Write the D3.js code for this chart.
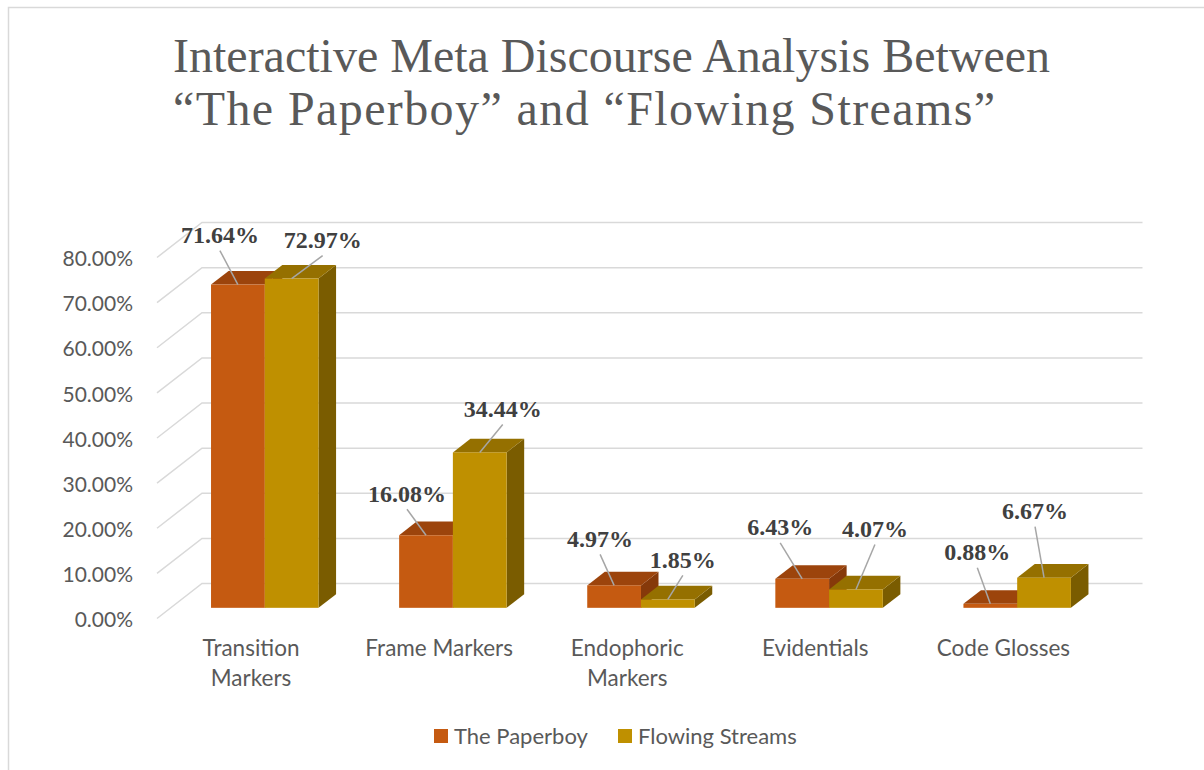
<!DOCTYPE html>
<html><head><meta charset="utf-8">
<script src="https://cdn.jsdelivr.net/npm/d3@7"></script>
<style>body{margin:0;background:#fff} svg{display:block}</style>
</head><body><svg id="c" width="1204" height="770"></svg>
<script>
// ---------- data ----------
const categories = ["Transition Markers", "Frame Markers", "Endophoric Markers", "Evidentials", "Code Glosses"];
const categoryLines = [["Transition", "Markers"], ["Frame Markers"], ["Endophoric", "Markers"], ["Evidentials"], ["Code Glosses"]];
const seriesNames = ["The Paperboy", "Flowing Streams"];
const paperboy = [71.64, 16.08, 4.97, 6.43, 0.88];
const flowing = [72.97, 34.44, 1.85, 4.07, 6.67];
const yTicks = [0, 10, 20, 30, 40, 50, 60, 70, 80];
const titleLines = ["Interactive Meta Discourse Analysis Between", "\u201CThe Paperboy\u201D and \u201CFlowing Streams\u201D"];

// ---------- layout / style ----------
const colors = {
  "The Paperboy": {front: "#C55A11", top: "#9C440C", side: "#86390A"},
  "Flowing Streams": {front: "#BF9000", top: "#957000", side: "#7A5C00"}
};
// data label offsets from leader start (per category, per series)
const labelOffsets = [
  [[-18, -50], [31, -39]],
  [[-19, -42], [23, -44]],
  [[-14, -47], [15, -40]],
  [[-22, -52], [19, -61]],
  [[-13, -52], [-9, -67]]
];
const depthX = 45, depthY = -35;      // full depth of the 3D box
const barF0 = 0.305, barF1 = 0.695;  // bar depth position (fraction)

const svg = d3.select("#c");
const sans = "Lato, 'Open Sans', sans-serif";
const serif = "'Liberation Serif', 'Times New Roman', serif";

svg.append("rect").attr("x", 8.5).attr("y", 7.5).attr("width", 1220).attr("height", 800)
  .attr("fill", "#fff").attr("stroke", "#D9D9D9").attr("stroke-width", 1.5);

// title
svg.append("g").selectAll("text").data(titleLines).join("text")
  .attr("x", 173).attr("y", (d, i) => 72 + i * 53)
  .attr("font-family", serif).attr("font-size", 48).attr("fill", "#595959")
  .attr("letter-spacing", (d, i) => i === 1 ? 1.4 : 0)
  .text(d => d);

const x = d3.scaleBand().domain(categories).range([157, 1097.5]).padding(0);
const xs = d3.scaleBand().domain(seriesNames).range([0, x.bandwidth()]).paddingInner(0).paddingOuter(0.75);
const y = d3.scaleLinear().domain([0, 80]).range([618.5, 257.5]);

// gridlines (side wall + back wall)
const grid = svg.append("g").attr("stroke", "#D9D9D9").attr("stroke-width", 1.5).attr("fill", "none");
yTicks.forEach(t => {
  const yf = y(t), yb = y(t) + depthY;
  grid.append("path").attr("d", `M${x.range()[0]},${yf}L${x.range()[0] + depthX},${yb}L${x.range()[1] + depthX},${yb}`);
});

// y axis labels
const yAxis = d3.axisLeft(y).tickValues(yTicks).tickFormat(d => d3.format(".2f")(d) + "%").tickSize(0).tickPadding(0);
const ya = svg.append("g").attr("transform", "translate(133,1.5)").call(yAxis);
ya.select(".domain").remove();
ya.selectAll("text").attr("font-family", sans).attr("font-size", 21).attr("fill", "#595959");

// bars
const seriesVals = [paperboy, flowing];
const ddx = (barF1 - barF0) * depthX, ddy = (barF1 - barF0) * depthY;
const barsG = svg.append("g");
const labelData = [];
categories.forEach((c, ci) => {
  seriesNames.forEach((s, si) => {
    const v = seriesVals[si][ci];
    const x0 = x(c) + xs(s) + barF0 * depthX, x1 = x0 + xs.bandwidth();
    const yT = y(v) + barF0 * depthY, yB = y(0) + barF0 * depthY;
    const col = colors[s];
    const g = barsG.append("g");
    g.append("polygon").attr("points", [[x1, yT], [x1 + ddx, yT + ddy], [x1 + ddx, yB + ddy], [x1, yB]].join(" ")).attr("fill", col.side);
    g.append("polygon").attr("points", [[x0, yT], [x1, yT], [x1 + ddx, yT + ddy], [x0 + ddx, yT + ddy]].join(" ")).attr("fill", col.top);
    g.append("rect").attr("x", x0).attr("y", yT).attr("width", x1 - x0).attr("height", yB - yT).attr("fill", col.front);
    const sx = (x0 + x1) / 2, sy = yT;
    const off = labelOffsets[ci][si];
    labelData.push({v, sx, sy, lx: sx + off[0], ly: sy + off[1]});
  });
});

// leader lines + data labels
const lg = svg.append("g");
labelData.forEach(d => {
  lg.append("line").attr("x1", d.sx).attr("y1", d.sy).attr("x2", d.lx).attr("y2", d.ly + 16)
    .attr("stroke", "#A6A6A6").attr("stroke-width", 1.5);
  lg.append("text").attr("x", d.lx).attr("y", d.ly).attr("dy", "0.35em").attr("text-anchor", "middle")
    .attr("font-family", serif).attr("font-weight", "bold").attr("font-size", 24).attr("fill", "#404040")
    .text(d3.format(".2f")(d.v) + "%");
});

// category labels
const cg = svg.append("g");
categories.forEach((c, ci) => {
  const t = cg.append("text").attr("x", x(c) + x.bandwidth() / 2).attr("y", 648)
    .attr("text-anchor", "middle").attr("font-family", sans).attr("font-size", 22.5).attr("fill", "#595959");
  categoryLines[ci].forEach((ln, li) => {
    t.append("tspan").attr("x", x(c) + x.bandwidth() / 2).attr("dy", li === 0 ? "0.35em" : 30).text(ln);
  });
});

// legend
const leg = svg.append("g");
const legX = [434, 618];
seriesNames.forEach((s, i) => {
  leg.append("rect").attr("x", legX[i]).attr("y", 729).attr("width", 14).attr("height", 14).attr("fill", colors[s].front);
  leg.append("text").attr("x", legX[i] + 20).attr("y", 736).attr("dy", "0.35em")
    .attr("font-family", sans).attr("font-size", 22).attr("fill", "#595959").text(s);
});
</script>
</body></html>
